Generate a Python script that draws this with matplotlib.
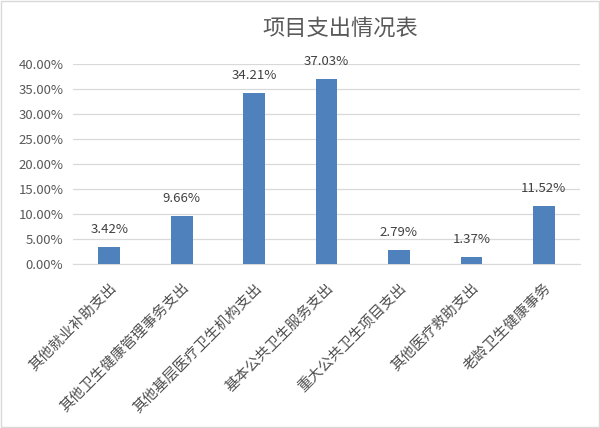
import matplotlib.pyplot as plt
from matplotlib.ticker import FuncFormatter, MultipleLocator
from matplotlib.patches import Rectangle

plt.rcParams['font.family'] = ['Noto Sans CJK SC', 'DejaVu Sans']

categories = ['其他就业补助支出', '其他卫生健康管理事务支出', '其他基层医疗卫生机构支出',
              '基本公共卫生服务支出', '重大公共卫生项目支出', '其他医疗救助支出', '老龄卫生健康事务']
shares = [0.0342, 0.0966, 0.3421, 0.3703, 0.0279, 0.0137, 0.1152]

text_col = '#595959'

fig = plt.figure(figsize=(6, 4.28), dpi=100)
ax = fig.add_axes([0.1217, 0.383, 0.845, 0.4675])

x = range(len(categories))
bars = ax.bar(x, shares, width=0.3, color='#4F81BD', zorder=3)
for b, v in zip(bars, shares):
    ax.annotate(f'{v * 100:.2f}%', (b.get_x() + b.get_width() / 2, v),
                xytext=(0, 8), textcoords='offset points',
                ha='center', va='bottom', fontsize=9.5, color='#404040')

ax.set_xlim(-0.5, len(categories) - 0.5)
ax.set_ylim(0, 0.40)
ax.yaxis.set_major_locator(MultipleLocator(0.05))
ax.yaxis.set_major_formatter(FuncFormatter(lambda v, p: f'{v * 100:.2f}%'))
ax.grid(axis='y', color='#D9D9D9', lw=0.9, zorder=0)
for s in ['top', 'right', 'left']:
    ax.spines[s].set_visible(False)
ax.spines['bottom'].set_color('#D9D9D9')
ax.tick_params(axis='both', length=0, colors=text_col, labelsize=9.5)
ax.tick_params(axis='y', pad=7)

ax.set_xticks(list(x))
ax.set_xticklabels(categories, rotation=45, ha='right', rotation_mode='anchor',
                   fontsize=10.5, fontweight='light', color='#505050')
ax.tick_params(axis='x', pad=12)

fig.text(0.567, 0.935, '项目支出情况表', ha='center', va='center', fontsize=16, color=text_col)
fig.patches.append(Rectangle((0.002, 0.002), 0.996, 0.996, transform=fig.transFigure,
                             fill=False, edgecolor='#D9D9D9', lw=1))

fig.savefig('out.png', dpi=100)
